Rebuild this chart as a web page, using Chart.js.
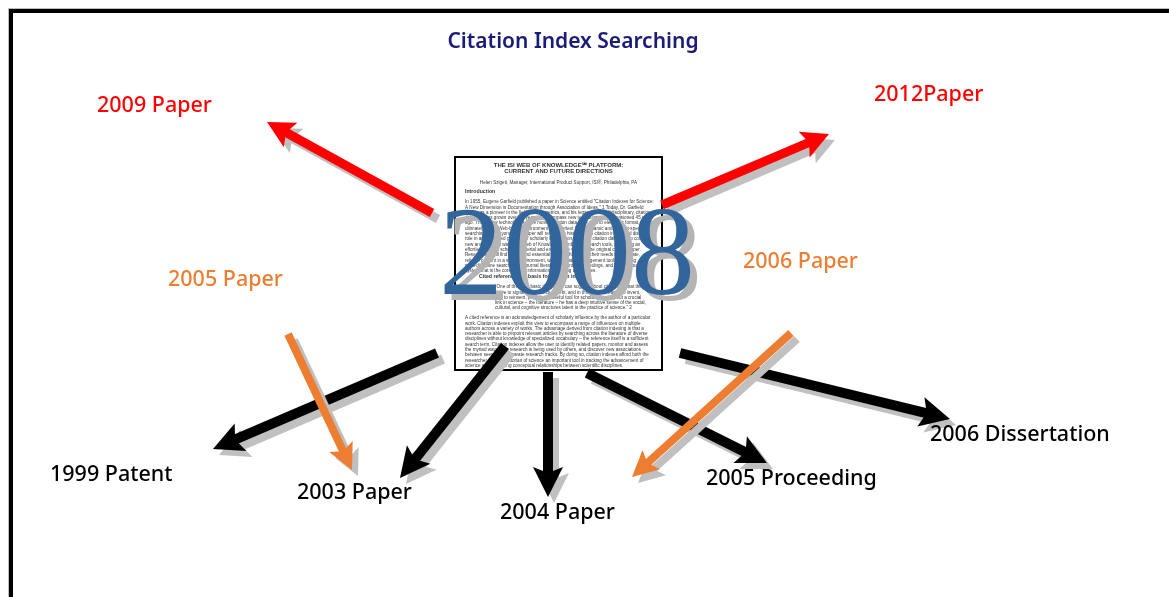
<!DOCTYPE html>
<html>
<head>
<meta charset="utf-8">
<script src="https://cdn.jsdelivr.net/npm/chart.js@4"></script>
<style>
  html, body { margin: 0; padding: 0; background: #fff; }
  #wrap { width: 1169px; height: 597px; position: relative; }
</style>
</head>
<body>
<div id="wrap"><canvas id="diagrama"></canvas></div>
<script>
// --- datos del diagrama (coordenadas en unidades de la lámina 1169x597) ---
// Chart.js pinta el último dataset primero, así que las negras van al final (debajo)
const titulo = 'Citation Index Searching';
const anioCentral = '2008';
const nombres   = ['2005 Paper', '2006 Paper', '2009 Paper', '2012Paper', '1999 Patent', '2003 Paper', '2004 Paper', '2005 Proceeding', '2006 Dissertation'];
const tipos     = ['rel', 'rel', 'cita', 'cita', 'ref', 'ref', 'ref', 'ref', 'ref'];
const desdeX    = [288, 791, 432, 662, 437, 505, 548, 587, 680];
const desdeY    = [334, 333, 213, 205, 353, 346, 372, 373, 353];
const hastaX    = [352, 632, 267, 829, 213, 400, 548, 767, 950];
const hastaY    = [470, 477, 122, 134, 449, 478, 497, 463, 419];

// posiciones de las etiquetas (borde izquierdo, centro vertical)
const posEtiquetas = {
  '1999 Patent': [50, 475], '2003 Paper': [297, 493], '2004 Paper': [500, 513],
  '2005 Proceeding': [706, 479], '2006 Dissertation': [930, 435],
  '2009 Paper': [97, 106], '2012Paper': [874, 95],
  '2005 Paper': [168, 280], '2006 Paper': [743, 262]
};

const estilos = {
  ref:  { color: '#000000', ancho: 10, largo: 30, medio: 15 },
  cita: { color: '#ff0000', ancho: 9,  largo: 27, medio: 14 },
  rel:  { color: '#ed7d31', ancho: 8,  largo: 26, medio: 13 }
};
const colorEtiqueta = { ref: '#000000', cita: '#ff0000', rel: '#ed7d31' };

const docTexto = {
  p1: 'In 1955, Eugene Garfield published a paper in Science entitled "Citation Indexes for Science: A New Dimension in Documentation through Association of Ideas." 1 Today, Dr. Garfield stands as a pioneer in the field of bibliometrics, and his legacy of a multidisciplinary, citation database has grown over the years to encompass new technologies not envisioned 45 years ago. These new technologies have moved citation data from print to electronic format, and ultimately into a Web-based environment of hypertext links, dynamic and content-specific searching, and beyond. This paper will review the history of the citation index, and discuss its role in an integrated platform of scholarly information, in which citation data links to content in new and powerful ways. ISI Web of Knowledge combines research tools, delivering an effortless path to scholarly material and extends the value of the original citation paper. Researchers will find critical and essential content that meets their needs for accurate, reliable content in a single environment, with integrated management tools, enabling multi-discipline search of ISI, journal literature, patents, proceedings, and Web resources, a system that is the core of ISI\u2019s information searching capabilities.',
  p2: '\u201COne of the most basic things one can suggest about citations is that they serve to signal the intellectual debt, and in this way it is easier to invent, and to reinvent, providing a useful tool for scholarly routine, but a crucial link in science \u2013 the literature \u2013 he has a deep intuitive sense of the social, cultural, and cognitive structures latent in the practice of science.\u201D 2',
  p3: 'A cited reference is an acknowledgement of scholarly influence by the author of a particular work. Citation indexes exploit this view to encompass a range of influences on multiple authors across a variety of works. The advantage derived from citation indexing is that a researcher is able to pinpoint relevant articles by searching across the literature of diverse disciplines without knowledge of specialized vocabulary \u2013 the reference itself is a sufficient search term. Citation indexes allow the user to identify related papers, monitor and assess the myriad ways their research is being used by others, and discover new associations between seemingly disparate research tracks. By doing so, citation indexes afford both the researcher and the historian of science an important tool in tracking the advancement of science and identifying conceptual relationships between scientific disciplines.'
};

function envolver(ctx, texto, ancho) {
  const palabras = texto.split(' ');
  const lineas = [];
  let actual = '';
  palabras.forEach(p => {
    const prueba = actual ? actual + ' ' + p : p;
    if (ctx.measureText(prueba).width > ancho && actual) {
      lineas.push(actual);
      actual = p;
    } else {
      actual = prueba;
    }
  });
  if (actual) lineas.push(actual);
  return lineas;
}

function dibujarFlecha(ctx, a, b, est, color, dx, dy) {
  const vx = b.x - a.x, vy = b.y - a.y;
  const len = Math.hypot(vx, vy);
  const ux = vx / len, uy = vy / len;
  const nx = -uy, ny = ux;
  const ax = a.x + dx, ay = a.y + dy, tx = b.x + dx, ty = b.y + dy;
  const bx = tx - ux * est.largo, by = ty - uy * est.largo;
  ctx.save();
  ctx.strokeStyle = color;
  ctx.fillStyle = color;
  ctx.lineWidth = est.ancho;
  ctx.lineCap = 'butt';
  ctx.beginPath();
  ctx.moveTo(ax, ay);
  ctx.lineTo(tx - ux * est.largo * 0.75, ty - uy * est.largo * 0.75);
  ctx.stroke();
  ctx.beginPath();
  ctx.moveTo(tx, ty);
  ctx.lineTo(bx + nx * est.medio, by + ny * est.medio);
  ctx.lineTo(tx - ux * est.largo * 0.8, ty - uy * est.largo * 0.8);
  ctx.lineTo(bx - nx * est.medio, by - ny * est.medio);
  ctx.closePath();
  ctx.fill();
  ctx.restore();
}

const pluginLamina = {
  id: 'lamina',
  beforeDatasetsDraw(chart) {
    const ctx = chart.ctx;
    const xs = chart.scales.x, ys = chart.scales.y;
    ctx.save();
    // marco
    ctx.strokeStyle = '#bdbdbd';
    ctx.lineWidth = 1;
    ctx.strokeRect(8.5, 8.5, 1400, 800);
    ctx.strokeStyle = '#000';
    ctx.lineWidth = 4;
    ctx.strokeRect(11, 11, 1400, 800);

    // documento central
    const x0 = xs.getPixelForValue(455), y0 = ys.getPixelForValue(157);
    const x1 = xs.getPixelForValue(662), y1 = ys.getPixelForValue(370);
    ctx.fillStyle = '#fff';
    ctx.fillRect(x0, y0, x1 - x0, y1 - y0);
    ctx.strokeStyle = '#000';
    ctx.lineWidth = 2;
    ctx.strokeRect(x0, y0, x1 - x0, y1 - y0);

    const cx = (x0 + x1) / 2;
    ctx.fillStyle = '#333';
    ctx.textAlign = 'center';
    ctx.textBaseline = 'middle';
    ctx.font = 'bold 6px "Liberation Sans"';
    ctx.fillText('THE ISI WEB OF KNOWLEDGE\u2120 PLATFORM:', cx, y0 + 8);
    ctx.fillText('CURRENT AND FUTURE DIRECTIONS', cx, y0 + 14);
    ctx.font = '4.6px "Liberation Sans"';
    ctx.fillText('Helen Szigeti, Manager, International Product Support, ISI\u00AE, Philadelphia, PA', cx, y0 + 26);
    ctx.textAlign = 'left';
    ctx.font = 'bold 5.2px "Liberation Sans"';
    ctx.fillText('Introduction', x0 + 10, y0 + 35);

    ctx.font = '4.6px "Liberation Sans"';
    const alto = 5.3;
    let y = y0 + 45;
    envolver(ctx, docTexto.p1, x1 - x0 - 18).slice(0, 14).forEach(l => { ctx.fillText(l, x0 + 10, y); y += alto; });
    ctx.font = 'bold 5.2px "Liberation Sans"';
    ctx.fillText('Cited references: A basis for citation indexes', x0 + 24, y0 + 120);
    ctx.font = '4.6px "Liberation Sans"';
    y = y0 + 130;
    envolver(ctx, docTexto.p2, x1 - x0 - 56).forEach(l => { ctx.fillText(l, x0 + 40, y); y += alto; });
    y = y0 + 161;
    envolver(ctx, docTexto.p3, x1 - x0 - 18).forEach(l => { ctx.fillText(l, x0 + 10, y); y += alto; });
    ctx.restore();
  },
  afterDatasetDraw(chart, args) {
    const meta = chart.getDatasetMeta(args.index);
    const est = estilos[tipos[args.index]];
    const a = meta.data[0], b = meta.data[1];
    dibujarFlecha(chart.ctx, a, b, est, '#c0c0c0', 6, 6);
    dibujarFlecha(chart.ctx, a, b, est, est.color, 0, 0);
  },
  afterDraw(chart) {
    const ctx = chart.ctx;
    const xs = chart.scales.x, ys = chart.scales.y;
    ctx.save();
    // año central con sombra
    ctx.font = '128px "Liberation Serif"';
    ctx.textAlign = 'center';
    ctx.textBaseline = 'alphabetic';
    const ax = xs.getPixelForValue(567), ay = ys.getPixelForValue(294);
    ctx.fillStyle = '#b4b4b4';
    ctx.fillText(anioCentral, ax + 7, ay + 6);
    ctx.fillStyle = '#31659c';
    ctx.fillText(anioCentral, ax, ay);

    // título
    ctx.font = '600 21px "Noto Sans"';
    ctx.fillStyle = '#1b1b78';
    ctx.textBaseline = 'middle';
    ctx.fillText(titulo, xs.getPixelForValue(573), ys.getPixelForValue(42));

    // etiquetas
    ctx.textAlign = 'left';
    ctx.font = '500 21.5px "Noto Sans"';
    nombres.forEach((n, i) => {
      const p = posEtiquetas[n];
      ctx.fillStyle = colorEtiqueta[tipos[i]];
      ctx.fillText(n, xs.getPixelForValue(p[0]), ys.getPixelForValue(p[1]));
    });
    ctx.restore();
  }
};

new Chart(document.getElementById('diagrama'), {
  type: 'scatter',
  data: {
    datasets: nombres.map((n, i) => ({
      label: n,
      data: [{ x: desdeX[i], y: desdeY[i] }, { x: hastaX[i], y: hastaY[i] }],
      showLine: false,
      pointRadius: 0,
      borderWidth: 0
    }))
  },
  options: {
    responsive: true,
    maintainAspectRatio: false,
    animation: false,
    layout: { padding: 0 },
    plugins: { legend: { display: false }, tooltip: { enabled: false } },
    scales: {
      x: { type: 'linear', min: 0, max: 1169, display: false },
      y: { type: 'linear', min: 0, max: 597, reverse: true, display: false }
    }
  },
  plugins: [pluginLamina]
});
</script>
</body>
</html>
